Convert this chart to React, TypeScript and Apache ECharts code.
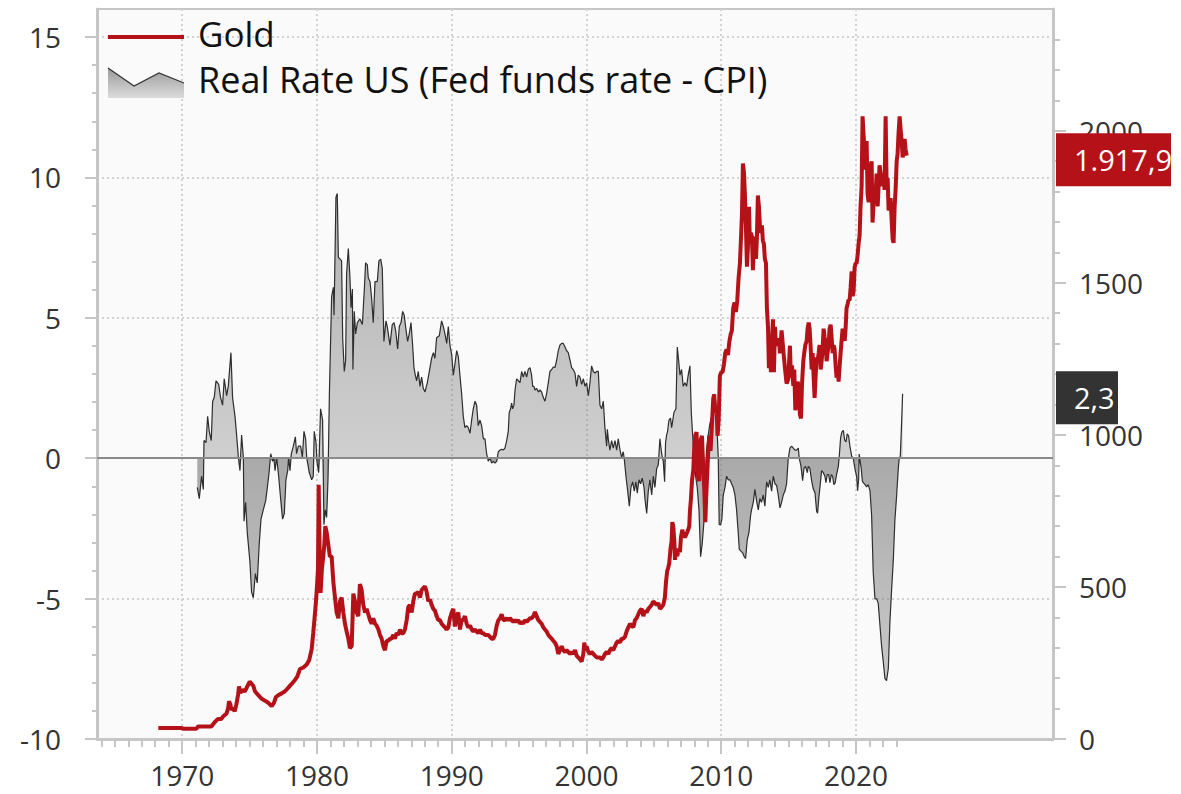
import React, { useEffect, useRef } from "react";
import * as echarts from "echarts";

const FONT = "'Open Sans', 'DejaVu Sans', sans-serif";
const RED = "#b41218";
const DARK = "#333333";
const AXIS_GRAY = "#c6c6c6";
const GRID_GRAY = "#d2d2d2";

const X_MIN = 1963.68;
const X_MAX = 2034.62;

const xMajorTicks = [1970, 1980, 1990, 2000, 2010, 2020];
const leftMajorTicks = [-10, -5, 0, 5, 10, 15];
const rightMajorTicks = [0, 500, 1000, 1500, 2000];

const legendGold = "Gold";
const legendRate = "Real Rate US (Fed funds rate - CPI)";

// Real rate US (Fed funds rate - CPI), in %, [year, value]
const realRate: [number, number][] = [
  [1971.12, -1.04], [1971.27, -1.44], [1971.44, -0.64], [1971.57, -1.11], [1971.62, 0.63], [1971.77, 0.56],
  [1971.89, 1.49], [1972.01, 0.96], [1972.16, 0.63], [1972.26, 2.03], [1972.38, 2.16], [1972.51, 2.76],
  [1972.71, 2.63], [1972.85, 2.16], [1973.0, 1.89], [1973.12, 2.83], [1973.3, 2.23], [1973.42, 2.56],
  [1973.62, 3.76], [1973.74, 2.16], [1973.92, 1.49], [1974.04, 0.83], [1974.17, 0.03], [1974.29, -0.44],
  [1974.41, 0.83], [1974.54, 0.03], [1974.59, -2.24], [1974.71, -1.57], [1974.83, -2.64], [1975.03, -3.71],
  [1975.15, -4.77], [1975.28, -4.97], [1975.43, -4.11], [1975.57, -4.44], [1975.72, -3.04], [1975.85, -2.17],
  [1976.02, -1.84], [1976.2, -1.51], [1976.32, -1.04], [1976.45, -0.51], [1976.57, 0.16], [1976.71, -0.11],
  [1976.81, 0.03], [1976.89, -0.44], [1977.01, 0.03], [1977.16, -0.64], [1977.33, -1.57], [1977.45, -2.17],
  [1977.58, -1.97], [1977.7, -0.77], [1977.83, -0.44], [1977.9, 0.03], [1978.0, -0.44], [1978.1, 0.16],
  [1978.25, 0.43], [1978.4, 0.76], [1978.49, 0.16], [1978.62, 0.43], [1978.79, 0.43], [1978.92, 0.03],
  [1979.04, 0.96], [1979.16, 0.69], [1979.24, 0.03], [1979.43, -0.51], [1979.61, -0.77], [1979.73, -0.64],
  [1979.8, 0.96], [1979.93, 0.56], [1980.0, -0.11], [1980.13, -0.51], [1980.27, 1.76], [1980.42, 1.36],
  [1980.52, -2.37], [1980.62, -1.84], [1980.72, -2.11], [1980.82, -0.77], [1980.93, 2.43],
  [1981.09, 5.76], [1981.22, 6.09], [1981.27, 5.09], [1981.41, 9.29], [1981.51, 9.43], [1981.59, 7.16],
  [1981.83, 7.03], [1981.91, 4.29], [1982.03, 3.09], [1982.13, 3.49], [1982.2, 6.56], [1982.33, 7.47],
  [1982.45, 6.43], [1982.53, 5.36], [1982.63, 6.03], [1982.67, 3.16], [1982.77, 5.23], [1982.87, 4.43],
  [1983.0, 4.83], [1983.19, 4.96], [1983.37, 4.76], [1983.52, 6.03], [1983.61, 6.96], [1983.74, 6.89],
  [1983.81, 6.43], [1983.94, 6.29], [1984.06, 5.69], [1984.18, 4.83], [1984.31, 6.29], [1984.48, 6.29],
  [1984.6, 7.03], [1984.73, 7.09], [1984.85, 6.76], [1984.97, 4.16], [1985.12, 4.89], [1985.22, 4.69],
  [1985.42, 4.03], [1985.59, 4.76], [1985.72, 4.83], [1985.84, 4.56], [1985.99, 3.89], [1986.11, 4.69],
  [1986.24, 4.83], [1986.36, 5.23], [1986.48, 5.09], [1986.61, 4.56], [1986.73, 4.16], [1986.85, 4.43],
  [1986.98, 4.83], [1987.1, 4.03], [1987.2, 3.23], [1987.3, 2.96], [1987.4, 2.76], [1987.52, 3.09],
  [1987.65, 2.56], [1987.77, 2.89], [1987.89, 2.49], [1988.02, 2.36], [1988.19, 2.69], [1988.39, 3.23],
  [1988.51, 3.56], [1988.64, 3.76], [1988.76, 3.56], [1988.88, 4.29], [1989.08, 4.36], [1989.25, 4.89],
  [1989.38, 4.69], [1989.5, 4.43], [1989.63, 4.09], [1989.75, 4.69], [1989.87, 4.03], [1990.0, 3.69],
  [1990.12, 2.96], [1990.24, 3.36], [1990.37, 3.83], [1990.49, 3.63], [1990.61, 2.96], [1990.74, 2.29],
  [1990.86, 1.49], [1990.98, 1.09], [1991.11, 1.16], [1991.23, 1.09], [1991.36, 0.89], [1991.48, 1.36],
  [1991.6, 1.76], [1991.73, 2.03], [1991.85, 1.89], [1991.97, 1.16], [1992.1, 1.36], [1992.22, 1.16],
  [1992.35, 0.69], [1992.47, 0.69], [1992.59, 0.16], [1992.72, -0.11], [1992.84, 0.03], [1992.96, -0.17],
  [1993.09, -0.11], [1993.21, -0.17], [1993.34, -0.11],
  [1993.46, 0.23], [1993.58, 0.29], [1993.71, 0.32], [1993.83, 0.29], [1993.95, 0.36], [1994.08, 0.63],
  [1994.2, 0.96], [1994.27, 1.63], [1994.37, 1.76], [1994.45, 1.96], [1994.52, 1.76], [1994.62, 1.89],
  [1994.7, 2.43], [1994.82, 2.83], [1994.94, 2.76], [1995.07, 2.69], [1995.19, 3.09], [1995.31, 2.89],
  [1995.44, 3.09], [1995.56, 2.89], [1995.68, 3.16], [1995.81, 3.23], [1995.93, 2.96], [1996.01, 2.56],
  [1996.1, 2.56], [1996.18, 2.43], [1996.3, 2.49], [1996.43, 2.36], [1996.55, 2.43], [1996.67, 2.36],
  [1996.8, 2.16], [1996.92, 2.03], [1997.04, 2.29], [1997.17, 2.69], [1997.29, 3.09], [1997.42, 3.16],
  [1997.54, 3.25], [1997.66, 3.23], [1997.79, 3.49], [1997.91, 3.83], [1998.03, 4.03], [1998.16, 4.09],
  [1998.28, 4.09], [1998.41, 3.96], [1998.53, 3.83], [1998.65, 3.76], [1998.78, 3.49], [1998.9, 3.23],
  [1999.02, 3.16], [1999.15, 3.03], [1999.27, 2.56], [1999.39, 2.96], [1999.52, 2.89], [1999.64, 2.63],
  [1999.77, 2.83], [1999.89, 2.56], [2000.01, 2.69], [2000.14, 2.23], [2000.26, 2.69], [2000.38, 3.29],
  [2000.51, 3.09], [2000.63, 3.03], [2000.76, 3.09], [2000.88, 3.09], [2001.0, 1.89], [2001.13, 1.76],
  [2001.25, 2.03], [2001.37, 1.09], [2001.5, 0.43], [2001.55, 1.03], [2001.62, 0.69], [2001.74, 0.29],
  [2001.87, 0.63], [2001.99, 0.36], [2002.12, 0.63], [2002.24, 0.29], [2002.36, 0.69], [2002.49, 0.29],
  [2002.61, 0.03], [2002.73, 0.23], [2002.81, -0.04], [2002.93, -0.64], [2003.06, -1.17], [2003.18, -1.71],
  [2003.3, -1.04], [2003.43, -0.84], [2003.55, -1.17], [2003.67, -0.84], [2003.77, -1.24], [2003.9, -0.77],
  [2004.02, -0.91], [2004.14, -0.71], [2004.27, -1.04], [2004.34, -1.44], [2004.47, -1.97], [2004.59, -1.17],
  [2004.71, -0.77], [2004.84, -1.31], [2004.96, -0.64], [2005.08, -1.04], [2005.21, -0.37], [2005.33, -0.24],
  [2005.45, 0.69], [2005.58, 0.16], [2005.7, -0.11], [2005.8, -0.84], [2005.87, 0.56], [2005.95, 0.83],
  [2006.02, 0.96], [2006.12, 1.36], [2006.24, 1.43], [2006.32, 1.09], [2006.39, 1.29], [2006.49, 1.63],
  [2006.64, 1.76], [2006.74, 3.96], [2006.84, 3.49], [2006.94, 2.96], [2007.06, 3.16], [2007.18, 2.56],
  [2007.31, 2.69], [2007.43, 2.56], [2007.55, 2.96], [2007.68, 3.29], [2007.78, 1.63], [2007.88, 0.83],
  [2007.97, 0.16], [2008.1, -0.64], [2008.22, -1.04], [2008.35, -1.84], [2008.47, -3.51], [2008.59, -3.04],
  [2008.72, -2.24], [2008.82, -0.91], [2008.91, 0.29], [2009.04, 0.83], [2009.16, 1.23], [2009.29, 1.49],
  [2009.41, 1.89], [2009.53, 2.29], [2009.61, 1.89], [2009.71, 0.83], [2009.78, 0.03], [2009.85, -2.37],
  [2009.95, -2.37], [2010.05, -2.17], [2010.15, -1.31], [2010.28, -1.04], [2010.4, -0.64], [2010.52, -0.77],
  [2010.65, -0.77], [2010.77, -0.91], [2010.89, -1.04], [2011.02, -1.31], [2011.14, -1.84], [2011.26, -2.64],
  [2011.34, -3.24], [2011.46, -3.31], [2011.59, -3.37], [2011.71, -3.51], [2011.81, -3.57], [2011.93, -2.91],
  [2012.06, -2.64], [2012.18, -2.04], [2012.25, -1.84], [2012.38, -1.57], [2012.5, -1.11], [2012.62, -1.51],
  [2012.75, -1.84], [2012.87, -1.44], [2012.99, -1.57], [2013.12, -1.31], [2013.24, -1.71], [2013.37, -0.84],
  [2013.49, -1.04], [2013.61, -0.77], [2013.74, -1.17], [2013.86, -0.64], [2013.99, -0.91], [2014.11, -0.97],
  [2014.23, -1.31], [2014.36, -1.77], [2014.48, -1.57], [2014.6, -1.31], [2014.73, -1.17], [2014.85, -0.91],
  [2014.97, -0.04], [2015.1, 0.36], [2015.22, 0.43], [2015.35, 0.36], [2015.47, 0.29], [2015.59, 0.29],
  [2015.72, 0.36], [2015.79, 0.0], [2015.92, -0.29], [2016.04, -0.8], [2016.14, -0.36], [2016.26, -0.29],
  [2016.39, -0.51], [2016.46, -0.29], [2016.58, -0.36], [2016.71, -0.8], [2016.83, -1.09], [2016.96, -1.24],
  [2017.08, -1.89], [2017.15, -1.96], [2017.25, -1.38], [2017.33, -1.02], [2017.45, -0.44], [2017.57, -0.51],
  [2017.7, -0.65], [2017.77, -0.87], [2017.87, -0.58], [2017.97, -0.58], [2018.07, -0.87], [2018.17, -0.58],
  [2018.27, -0.65], [2018.36, -0.94], [2018.46, -0.87], [2018.56, -0.58], [2018.69, -0.29], [2018.76, 0.07],
  [2018.86, 0.73], [2018.96, 0.94], [2019.06, 0.99], [2019.16, 0.65], [2019.26, 0.58], [2019.35, 0.87],
  [2019.45, 0.8], [2019.55, 0.44], [2019.68, 0.07], [2019.8, 0.0], [2019.87, -0.22], [2019.95, -0.44],
  [2020.05, -0.65], [2020.12, -1.16], [2020.2, -0.73], [2020.24, 0.15], [2020.32, -0.15], [2020.39, -0.36],
  [2020.47, -0.8], [2020.54, -0.87], [2020.67, -0.94], [2020.79, -1.02], [2020.91, -0.94], [2021.04, -1.16],
  [2021.16, -2.03], [2021.28, -4.07], [2021.41, -5.01], [2021.53, -5.01], [2021.65, -5.16], [2021.78, -5.96],
  [2021.9, -6.69], [2022.03, -7.27], [2022.15, -7.85], [2022.27, -7.92], [2022.4, -7.49], [2022.52, -5.81],
  [2022.64, -4.72], [2022.77, -3.63], [2022.89, -2.18], [2023.01, -1.38], [2023.14, -0.36], [2023.21, 0.0],
  [2023.29, 0.07], [2023.39, 1.31], [2023.46, 2.3],
];

// Gold price in USD, [year, value]
const gold: [number, number][] = [
  [1968.23, 36], [1969.96, 36], [1970.08, 34], [1971.06, 34], [1971.18, 41], [1972.16, 41],
  [1972.41, 55], [1972.66, 66], [1972.91, 66], [1973.03, 74], [1973.28, 83], [1973.4, 99],
  [1973.48, 124], [1973.58, 113], [1973.65, 96], [1973.77, 102], [1973.9, 91], [1974.02, 113],
  [1974.15, 146], [1974.22, 173], [1974.32, 151], [1974.47, 162], [1974.64, 156], [1974.77, 167],
  [1974.89, 178], [1975.01, 189], [1975.15, 181], [1975.28, 175], [1975.4, 157], [1975.65, 144],
  [1975.9, 132], [1976.14, 126], [1976.39, 119], [1976.64, 108], [1976.81, 119], [1976.96, 138],
  [1977.13, 144], [1977.38, 150], [1977.63, 157], [1977.88, 169], [1978.12, 181], [1978.37, 194],
  [1978.54, 205], [1978.74, 230], [1978.99, 235], [1979.24, 245], [1979.43, 260], [1979.61, 295],
  [1979.73, 350], [1979.86, 416], [1979.93, 453], [1980.0, 500], [1980.08, 560], [1980.13, 836],
  [1980.2, 620], [1980.27, 480], [1980.37, 560], [1980.47, 600], [1980.55, 640], [1980.62, 700],
  [1980.72, 680], [1980.84, 640], [1980.96, 600],
  [1981.09, 601], [1981.22, 515], [1981.34, 465], [1981.46, 416], [1981.59, 397], [1981.71, 453],
  [1981.83, 465], [1981.96, 416], [1982.08, 379], [1982.2, 354], [1982.33, 330], [1982.45, 299],
  [1982.58, 305], [1982.7, 478], [1982.82, 453], [1982.95, 416], [1983.07, 404], [1983.19, 509],
  [1983.32, 490], [1983.44, 441], [1983.57, 416], [1983.69, 428], [1983.81, 410], [1983.94, 391],
  [1984.06, 379], [1984.18, 397], [1984.31, 379], [1984.43, 373], [1984.56, 360], [1984.68, 342],
  [1984.8, 330], [1984.93, 305], [1985.05, 292], [1985.17, 323], [1985.3, 323], [1985.42, 330],
  [1985.54, 330], [1985.67, 342], [1985.79, 330], [1985.91, 348], [1986.04, 342], [1986.16, 360],
  [1986.29, 348], [1986.41, 348], [1986.53, 360], [1986.66, 391], [1986.78, 434], [1986.9, 441],
  [1987.03, 416], [1987.15, 453], [1987.27, 478], [1987.4, 478], [1987.52, 484], [1987.65, 465],
  [1987.77, 490], [1987.89, 496], [1988.02, 502], [1988.14, 484], [1988.26, 453], [1988.39, 459],
  [1988.51, 441], [1988.63, 428], [1988.76, 422], [1988.88, 404], [1989.0, 391], [1989.13, 391],
  [1989.25, 379], [1989.37, 373], [1989.5, 367], [1989.62, 360], [1989.75, 367], [1989.87, 397],
  [1990.0, 416], [1990.12, 428], [1990.24, 370], [1990.37, 404], [1990.49, 416], [1990.61, 360],
  [1990.74, 391], [1990.86, 391], [1990.98, 404], [1991.11, 379], [1991.23, 367], [1991.36, 373],
  [1991.48, 360], [1991.6, 354], [1991.73, 360], [1991.85, 354], [1991.97, 348], [1992.1, 360],
  [1992.22, 348], [1992.35, 348], [1992.47, 342], [1992.59, 342], [1992.72, 342], [1992.84, 336],
  [1992.96, 330], [1993.09, 330], [1993.21, 342], [1993.34, 373], [1993.46, 390],
  [1993.58, 397], [1993.71, 410], [1993.83, 391], [1993.95, 391], [1994.08, 397], [1994.2, 391],
  [1994.32, 397], [1994.45, 391], [1994.57, 385], [1994.7, 391], [1994.82, 385], [1994.94, 391],
  [1995.07, 379], [1995.19, 385], [1995.31, 379], [1995.44, 391], [1995.56, 385], [1995.68, 391],
  [1995.81, 397], [1995.93, 397], [1996.06, 404], [1996.18, 418], [1996.3, 404], [1996.43, 391],
  [1996.55, 385], [1996.67, 379], [1996.8, 367], [1996.92, 360], [1997.04, 354], [1997.17, 342],
  [1997.29, 336], [1997.42, 330], [1997.54, 323], [1997.66, 317], [1997.79, 305], [1997.91, 280],
  [1998.03, 292], [1998.16, 305], [1998.28, 292], [1998.41, 286], [1998.53, 292], [1998.65, 286],
  [1998.78, 280], [1998.9, 286], [1999.02, 280], [1999.15, 292], [1999.27, 274], [1999.39, 268],
  [1999.52, 262], [1999.64, 255], [1999.77, 280], [1999.84, 317], [1999.91, 292], [2000.01, 305],
  [2000.14, 286], [2000.26, 280], [2000.38, 286], [2000.51, 280], [2000.63, 274], [2000.76, 268],
  [2000.88, 268], [2001.0, 268], [2001.13, 262], [2001.25, 268], [2001.37, 280], [2001.5, 286],
  [2001.62, 280], [2001.74, 292], [2001.87, 299], [2001.99, 292], [2002.12, 305], [2002.24, 317],
  [2002.36, 323], [2002.49, 317], [2002.61, 330], [2002.73, 330], [2002.86, 336], [2002.98, 354],
  [2003.11, 367], [2003.23, 379], [2003.35, 373], [2003.48, 367], [2003.6, 391], [2003.72, 397],
  [2003.85, 410], [2003.97, 422], [2004.09, 428], [2004.22, 404], [2004.34, 422], [2004.47, 416],
  [2004.59, 428], [2004.71, 434], [2004.84, 441], [2004.96, 453], [2005.08, 447], [2005.21, 441],
  [2005.33, 447],
  [2005.45, 428], [2005.58, 434], [2005.7, 441], [2005.82, 465], [2005.9, 515], [2005.99, 552],
  [2006.07, 564], [2006.14, 577], [2006.24, 626], [2006.32, 651], [2006.37, 713], [2006.44, 700],
  [2006.52, 651], [2006.57, 589], [2006.64, 626], [2006.74, 601], [2006.84, 626], [2006.94, 614],
  [2007.01, 663], [2007.11, 688], [2007.18, 675], [2007.31, 663], [2007.43, 675], [2007.55, 688],
  [2007.63, 700], [2007.68, 750], [2007.75, 787], [2007.83, 848], [2007.93, 886], [2008.0, 960],
  [2008.07, 997], [2008.17, 1009], [2008.27, 861], [2008.37, 848], [2008.42, 947], [2008.49, 985],
  [2008.57, 997], [2008.67, 886], [2008.74, 824], [2008.82, 713], [2008.89, 799], [2008.96, 873],
  [2009.04, 947], [2009.11, 997], [2009.21, 947], [2009.31, 1034], [2009.41, 1120], [2009.48, 1133],
  [2009.56, 1071], [2009.66, 1083], [2009.73, 997], [2009.81, 1046], [2009.9, 1194], [2010.0, 1206],
  [2010.1, 1206], [2010.2, 1231], [2010.3, 1269], [2010.4, 1281], [2010.5, 1262], [2010.6, 1305],
  [2010.7, 1330], [2010.79, 1342], [2010.89, 1417], [2010.99, 1435], [2011.09, 1404], [2011.19, 1441],
  [2011.29, 1516], [2011.39, 1565], [2011.46, 1639], [2011.54, 1726], [2011.61, 1892], [2011.69, 1861],
  [2011.76, 1787], [2011.83, 1689], [2011.91, 1553], [2011.98, 1615], [2012.06, 1750], [2012.13, 1627],
  [2012.2, 1664], [2012.28, 1652], [2012.35, 1541], [2012.43, 1627], [2012.5, 1652], [2012.58, 1578],
  [2012.65, 1652], [2012.72, 1787], [2012.8, 1750], [2012.87, 1689], [2012.95, 1664], [2013.02, 1689],
  [2013.09, 1639], [2013.17, 1627], [2013.24, 1578], [2013.32, 1565], [2013.39, 1417], [2013.47, 1355],
  [2013.54, 1219], [2013.61, 1268], [2013.69, 1206], [2013.76, 1305], [2013.84, 1380], [2013.91, 1206],
  [2013.99, 1355], [2014.06, 1293], [2014.13, 1305], [2014.21, 1293], [2014.28, 1318], [2014.36, 1268],
  [2014.48, 1343], [2014.6, 1281], [2014.73, 1219], [2014.85, 1169], [2014.97, 1182], [2015.1, 1293],
  [2015.17, 1188], [2015.25, 1228], [2015.35, 1161], [2015.42, 1215], [2015.5, 1081], [2015.59, 1108],
  [2015.67, 1175], [2015.74, 1161], [2015.84, 1067], [2015.92, 1054], [2015.99, 1161], [2016.09, 1242],
  [2016.16, 1269], [2016.24, 1295], [2016.34, 1309], [2016.41, 1349], [2016.49, 1369], [2016.56, 1349],
  [2016.63, 1295], [2016.71, 1215], [2016.78, 1269], [2016.86, 1188], [2016.93, 1121], [2017.0, 1188],
  [2017.08, 1255], [2017.15, 1242], [2017.23, 1269], [2017.3, 1295], [2017.38, 1215], [2017.45, 1242],
  [2017.52, 1282], [2017.6, 1349], [2017.67, 1322], [2017.75, 1295], [2017.82, 1242], [2017.89, 1269],
  [2017.97, 1295], [2018.04, 1349], [2018.12, 1362], [2018.19, 1322], [2018.27, 1269], [2018.34, 1295],
  [2018.41, 1282], [2018.49, 1228], [2018.56, 1188], [2018.64, 1215], [2018.71, 1175], [2018.79, 1228],
  [2018.86, 1269], [2018.93, 1309], [2019.01, 1349], [2019.08, 1322], [2019.16, 1309], [2019.23, 1349],
  [2019.3, 1416], [2019.38, 1430], [2019.45, 1443], [2019.53, 1443], [2019.6, 1483], [2019.68, 1537],
  [2019.75, 1456], [2019.82, 1470], [2019.9, 1550], [2019.97, 1564], [2020.05, 1564], [2020.12, 1590],
  [2020.2, 1631], [2020.27, 1657], [2020.34, 1751], [2020.42, 1818], [2020.49, 2047], [2020.57, 1980],
  [2020.64, 1939], [2020.71, 1872], [2020.79, 1966], [2020.86, 1792], [2020.94, 1765], [2021.01, 1778],
  [2021.09, 1886], [2021.16, 1899], [2021.23, 1698], [2021.31, 1765], [2021.38, 1805], [2021.46, 1792],
  [2021.53, 1859], [2021.61, 1751], [2021.68, 1818], [2021.75, 1886], [2021.83, 1859], [2021.9, 1832],
  [2021.98, 1818], [2022.05, 1859], [2022.12, 1805], [2022.2, 2047], [2022.27, 1832], [2022.35, 1845],
  [2022.42, 1738], [2022.5, 1751], [2022.57, 1778], [2022.64, 1711], [2022.72, 1644], [2022.79, 1631],
  [2022.87, 1751], [2022.94, 1805], [2023.02, 1899], [2023.09, 1926], [2023.16, 1993], [2023.24, 2047],
  [2023.31, 2006], [2023.39, 1966], [2023.46, 1912], [2023.53, 1926], [2023.61, 1973], [2023.68, 1939],
  [2023.76, 1917.9],
];

function range(a: number, b: number, step: number): number[] {
  const out: number[] = [];
  for (let v = a; v <= b + 1e-9; v += step) out.push(v);
  return out;
}

const xMinorTicks = range(1964, 2023, 1);
const leftMinorTicks = range(-10, 15, 1);
const rightMinorTicks = range(0, 2300, 100);

function fmtDe(v: number): string {
  const fixed = v.toFixed(1);
  const [intPart, dec] = fixed.split(".");
  const neg = intPart.startsWith("-");
  const digits = neg ? intPart.slice(1) : intPart;
  const withSep = digits.replace(/\B(?=(\d{3})+(?!\d))/g, ".");
  return (neg ? "-" : "") + withSep + "," + dec;
}

export default function App() {
  const ref = useRef<HTMLDivElement>(null);

  useEffect(() => {
    if (!ref.current) return;
    const chart = echarts.init(ref.current, undefined, { renderer: "svg" });

    const posPart = realRate.map(([x, v]) => [x, Math.max(v, 0)]);
    const negPart = realRate.map(([x, v]) => [x, Math.min(v, 0)]);

    const tickStyle = { color: AXIS_GRAY, width: 2 };
    const labelBase = { color: "#333", fontSize: 28, fontFamily: FONT };
    const plain = (v: number) => String(Math.round(v));

    chart.setOption({
      animation: false,
      backgroundColor: "#ffffff",
      grid: {
        left: 97,
        right: 128,
        top: 9,
        bottom: 55,
        show: true,
        backgroundColor: "#fafafa",
        borderColor: AXIS_GRAY,
        borderWidth: 2,
        containLabel: false,
        outerBoundsMode: "none",
      },
      xAxis: [
        {
          type: "value",
          min: X_MIN,
          max: X_MAX,
          position: "bottom",
          axisLine: { show: true, onZero: false, lineStyle: { color: AXIS_GRAY, width: 3 } },
          axisTick: { show: true, customValues: xMajorTicks, length: 15, lineStyle: tickStyle },
          axisLabel: { ...labelBase, customValues: xMajorTicks, margin: 22, formatter: plain },
          splitLine: { show: true, lineStyle: { color: GRID_GRAY, width: 2, type: [2, 3] } },
        },
        {
          type: "value",
          min: X_MIN,
          max: X_MAX,
          position: "bottom",
          axisLine: { show: false, onZero: false },
          axisTick: { show: true, customValues: xMinorTicks, length: 8, lineStyle: tickStyle },
          axisLabel: { show: false },
          splitLine: { show: false },
        },
      ],
      yAxis: [
        {
          type: "value",
          min: -10,
          max: 16,
          position: "left",
          axisLine: { show: true, onZero: false, lineStyle: { color: AXIS_GRAY, width: 3 } },
          axisTick: { show: true, customValues: leftMajorTicks, length: 12, lineStyle: tickStyle },
          axisLabel: { ...labelBase, customValues: leftMajorTicks, margin: 36, formatter: plain },
          splitLine: { show: true, lineStyle: { color: GRID_GRAY, width: 2, type: [2, 3] } },
        },
        {
          type: "value",
          min: -10,
          max: 16,
          position: "left",
          axisLine: { show: false, onZero: false },
          axisTick: { show: true, customValues: leftMinorTicks, length: 5, lineStyle: tickStyle },
          axisLabel: { show: false },
          splitLine: { show: false },
        },
        {
          type: "value",
          min: 0,
          max: 2400,
          position: "right",
          axisLine: { show: true, onZero: false, lineStyle: { color: AXIS_GRAY, width: 3 } },
          axisTick: { show: true, customValues: rightMajorTicks, length: 13, lineStyle: tickStyle },
          axisLabel: { ...labelBase, customValues: rightMajorTicks, margin: 26, formatter: plain },
          splitLine: { show: false },
        },
        {
          type: "value",
          min: 0,
          max: 2400,
          position: "right",
          axisLine: { show: false, onZero: false },
          axisTick: { show: true, customValues: rightMinorTicks, length: 7, lineStyle: tickStyle },
          axisLabel: { show: false },
          splitLine: { show: false },
        },
      ],
      series: [
        {
          name: "rate-pos",
          type: "line",
          xAxisIndex: 0,
          yAxisIndex: 0,
          data: posPart,
          showSymbol: false,
          silent: true,
          lineStyle: { width: 0, opacity: 0 },
          areaStyle: {
            opacity: 1,
            color: new echarts.graphic.LinearGradient(0, 0, 0, 1, [
              { offset: 0, color: "rgba(120,120,120,0.55)" },
              { offset: 1, color: "rgba(120,120,120,0.33)" },
            ]),
          },
          z: 2,
        },
        {
          name: "rate-neg",
          type: "line",
          xAxisIndex: 0,
          yAxisIndex: 0,
          data: negPart,
          showSymbol: false,
          silent: true,
          lineStyle: { width: 0, opacity: 0 },
          areaStyle: {
            opacity: 1,
            color: new echarts.graphic.LinearGradient(0, 0, 0, 1, [
              { offset: 0, color: "rgba(120,120,120,0.62)" },
              { offset: 1, color: "rgba(120,120,120,0.38)" },
            ]),
          },
          z: 2,
        },
        {
          name: legendRate,
          type: "line",
          xAxisIndex: 0,
          yAxisIndex: 0,
          data: realRate,
          showSymbol: false,
          lineStyle: { color: "#2e2e2e", width: 1.2 },
          z: 3,
          markLine: {
            silent: true,
            symbol: "none",
            label: { show: false },
            lineStyle: { color: "#8a8a8a", width: 2, type: "solid" },
            data: [{ yAxis: 0 }],
          },
        },
        {
          name: legendGold,
          type: "line",
          xAxisIndex: 0,
          yAxisIndex: 2,
          data: gold,
          showSymbol: false,
          lineStyle: { color: RED, width: 4 },
          z: 5,
        },
      ],
    });

    const lastGold = gold[gold.length - 1][1];
    const lastRate = realRate[realRate.length - 1][1];
    const yGold = chart.convertToPixel({ yAxisIndex: 2 }, lastGold) as number;
    const yRate = chart.convertToPixel({ yAxisIndex: 0 }, lastRate) as number;

    chart.setOption({
      graphic: [
        { type: "line", shape: { x1: 108, y1: 37, x2: 184, y2: 37 }, style: { stroke: RED, lineWidth: 4 } },
        {
          type: "text",
          x: 198,
          y: 33,
          style: { text: legendGold, fontSize: 35, fontFamily: FONT, fill: "#111", verticalAlign: "middle" },
        },
        {
          type: "polygon",
          shape: { points: [[108, 68], [134, 86], [159, 73], [184, 83], [184, 98], [108, 98]] },
          style: {
            fill: new echarts.graphic.LinearGradient(0, 0, 0, 1, [
              { offset: 0, color: "#9a9a9a" },
              { offset: 1, color: "#dcdcdc" },
            ]),
          },
        },
        {
          type: "polyline",
          shape: { points: [[108, 68], [134, 86], [159, 73], [184, 83]] },
          style: { stroke: "#333", lineWidth: 1.2, fill: null },
        },
        {
          type: "text",
          x: 198,
          y: 79,
          style: { text: legendRate, fontSize: 36, fontFamily: FONT, fill: "#111", verticalAlign: "middle" },
        },
        {
          type: "rect",
          shape: { x: 1056, y: yGold + 4 - 26.5, width: 115, height: 53 },
          style: { fill: RED },
          z: 100,
        },
        {
          type: "text",
          x: 1074,
          y: yGold + 4,
          style: { text: fmtDe(lastGold), fontSize: 29, fontFamily: FONT, fill: "#fff", verticalAlign: "middle" },
          z: 101,
        },
        {
          type: "rect",
          shape: { x: 1056, y: yRate + 4 - 26.5, width: 62, height: 53 },
          style: { fill: DARK },
          z: 100,
        },
        {
          type: "text",
          x: 1074,
          y: yRate + 4,
          style: { text: fmtDe(lastRate), fontSize: 29, fontFamily: FONT, fill: "#fff", verticalAlign: "middle" },
          z: 101,
        },
      ],
    });

    return () => {
      chart.dispose();
    };
  }, []);

  return (
    <div
      ref={ref}
      style={{ position: "fixed", left: 0, top: 0, width: 1181, height: 794, background: "#fff" }}
    />
  );
}
